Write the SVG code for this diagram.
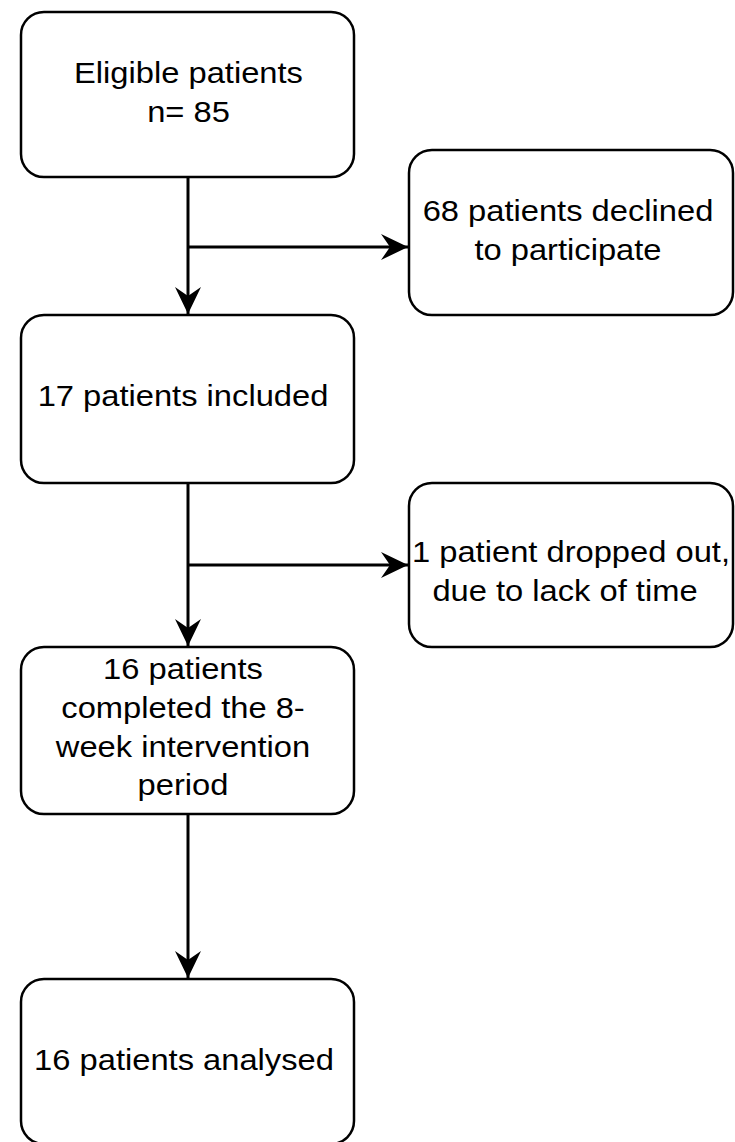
<svg xmlns="http://www.w3.org/2000/svg" width="735" height="1142" viewBox="0 0 735 1142">
  <style>
    .box { fill: #ffffff; stroke: #000000; stroke-width: 2.5; }
    .lbl { font-family: "Liberation Sans", Arial, Helvetica, sans-serif; font-size: 30px; fill: #000000; text-anchor: middle; }
    .conn { stroke: #000000; stroke-width: 3; fill: none; }
  </style>
  <defs>
    <marker id="arrow" markerUnits="userSpaceOnUse" markerWidth="28" markerHeight="28" viewBox="0 0 28 26" refX="27" refY="13" orient="auto">
      <path d="M0,0 L27,13 L0,26 L9,13 Z" fill="#000000"/>
    </marker>
  </defs>
  <rect width="735" height="1142" fill="#ffffff"/>

  <g id="connectors">
    <line class="conn" x1="188" y1="177" x2="188" y2="314" marker-end="url(#arrow)"/>
    <line class="conn" x1="188" y1="247" x2="408" y2="247" marker-end="url(#arrow)"/>
    <line class="conn" x1="188" y1="483" x2="188" y2="646" marker-end="url(#arrow)"/>
    <line class="conn" x1="188" y1="565" x2="408" y2="565" marker-end="url(#arrow)"/>
    <line class="conn" x1="188" y1="814" x2="188" y2="978" marker-end="url(#arrow)"/>
  </g>

  <g id="node-eligible">
    <rect class="box" x="21" y="12" width="333" height="165" rx="23" ry="23"/>
    <text class="lbl" transform="matrix(1.09 0 0 1 188.5 0)" x="0" y="83">Eligible patients</text>
    <text class="lbl" transform="matrix(1.09 0 0 1 188.5 0)" x="0" y="122">n= 85</text>
  </g>

  <g id="node-declined">
    <rect class="box" x="409" y="150" width="324" height="165" rx="23" ry="23"/>
    <text class="lbl" transform="matrix(1.09 0 0 1 568 0)" x="0" y="221">68 patients declined</text>
    <text class="lbl" transform="matrix(1.09 0 0 1 568 0)" x="0" y="260">to participate</text>
  </g>

  <g id="node-included">
    <rect class="box" x="21" y="315" width="333" height="168" rx="23" ry="23"/>
    <text class="lbl" transform="matrix(1.09 0 0 1 183 0)" x="0" y="406">17 patients included</text>
  </g>

  <g id="node-dropped">
    <rect class="box" x="409" y="483" width="324" height="164" rx="23" ry="23"/>
    <text class="lbl" transform="matrix(1.09 0 0 1 571 0)" x="0" y="562">1 patient dropped out,</text>
    <text class="lbl" transform="matrix(1.09 0 0 1 565 0)" x="0" y="601">due to lack of time</text>
  </g>

  <g id="node-completed">
    <rect class="box" x="21" y="647" width="333" height="167" rx="23" ry="23"/>
    <text class="lbl" transform="matrix(1.09 0 0 1 183 0)" x="0" y="679">16 patients</text>
    <text class="lbl" transform="matrix(1.09 0 0 1 183 0)" x="0" y="718">completed the 8-</text>
    <text class="lbl" transform="matrix(1.09 0 0 1 183 0)" x="0" y="757">week intervention</text>
    <text class="lbl" transform="matrix(1.09 0 0 1 183 0)" x="0" y="795">period</text>
  </g>

  <g id="node-analysed">
    <rect class="box" x="21" y="979" width="333" height="165" rx="23" ry="23"/>
    <text class="lbl" transform="matrix(1.09 0 0 1 184 0)" x="0" y="1070">16 patients analysed</text>
  </g>
</svg>
